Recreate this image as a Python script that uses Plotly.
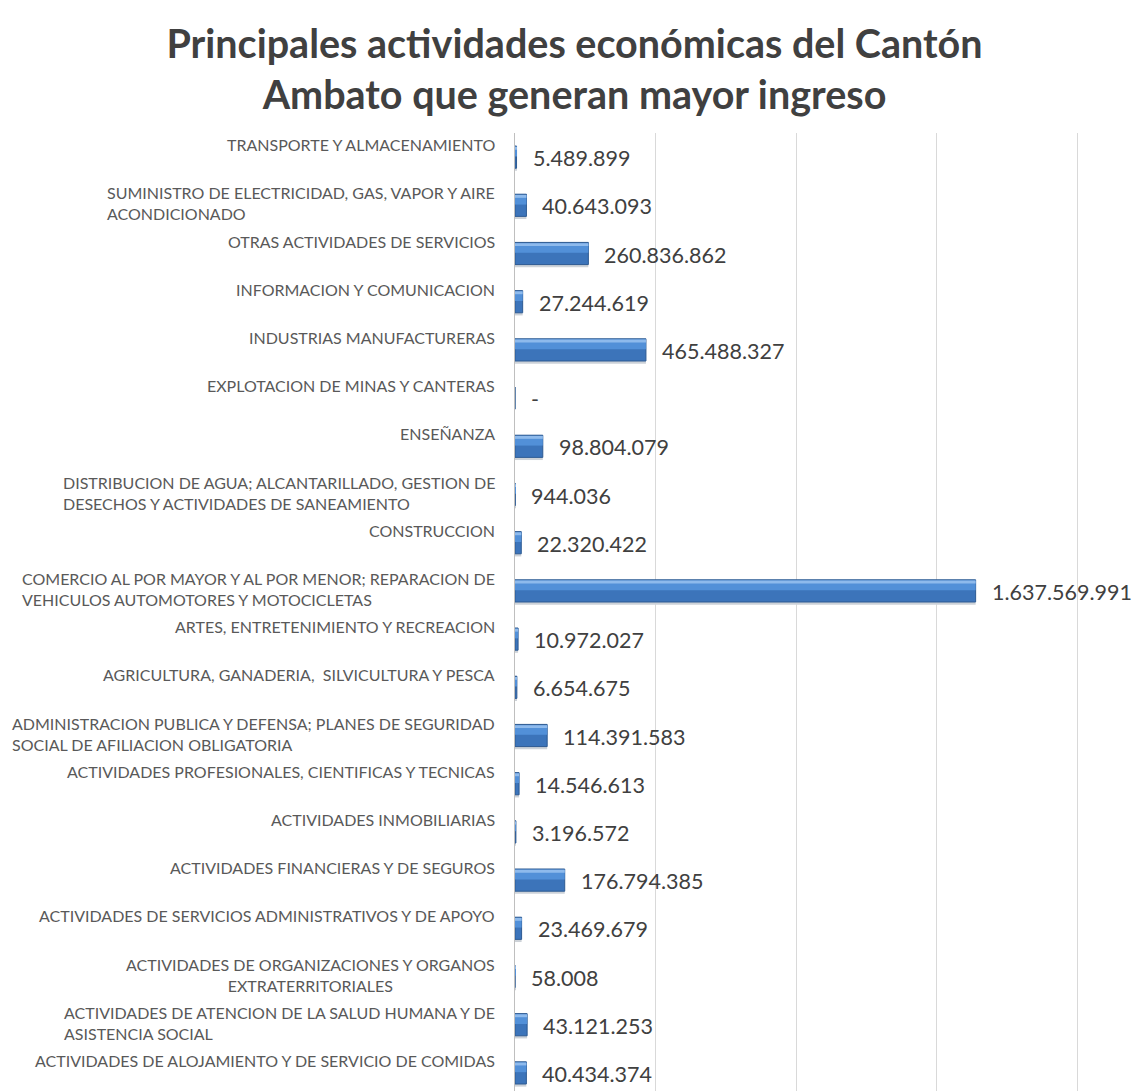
import plotly.graph_objects as go

# ===== Datos (orden de arriba hacia abajo, como en el gráfico) =====
actividades = [
    "TRANSPORTE Y ALMACENAMIENTO",
    "SUMINISTRO DE ELECTRICIDAD, GAS, VAPOR Y AIRE<br>ACONDICIONADO",
    "OTRAS ACTIVIDADES DE SERVICIOS",
    "INFORMACION Y COMUNICACION",
    "INDUSTRIAS MANUFACTURERAS",
    "EXPLOTACION DE MINAS Y CANTERAS",
    "ENSEÑANZA",
    "DISTRIBUCION DE AGUA; ALCANTARILLADO, GESTION DE<br>DESECHOS Y ACTIVIDADES DE SANEAMIENTO",
    "CONSTRUCCION",
    "COMERCIO AL POR MAYOR Y AL POR MENOR; REPARACION DE<br>VEHICULOS AUTOMOTORES Y MOTOCICLETAS",
    "ARTES, ENTRETENIMIENTO Y RECREACION",
    "AGRICULTURA, GANADERIA,  SILVICULTURA Y PESCA",
    "ADMINISTRACION PUBLICA Y DEFENSA; PLANES DE SEGURIDAD<br>SOCIAL DE AFILIACION OBLIGATORIA",
    "ACTIVIDADES PROFESIONALES, CIENTIFICAS Y TECNICAS",
    "ACTIVIDADES INMOBILIARIAS",
    "ACTIVIDADES FINANCIERAS Y DE SEGUROS",
    "ACTIVIDADES DE SERVICIOS ADMINISTRATIVOS Y DE APOYO",
    "ACTIVIDADES DE ORGANIZACIONES Y ORGANOS<br>EXTRATERRITORIALES",
    "ACTIVIDADES DE ATENCION DE LA SALUD HUMANA Y DE<br>ASISTENCIA SOCIAL",
    "ACTIVIDADES DE ALOJAMIENTO Y DE SERVICIO DE COMIDAS",
]
ingresos = [
    5489899, 40643093, 260836862, 27244619, 465488327,
    0, 98804079, 944036, 22320422, 1637569991,
    10972027, 6654675, 114391583, 14546613, 3196572,
    176794385, 23469679, 58008, 43121253, 40434374,
]
titulo = "Principales actividades económicas del Cantón<br>Ambato que generan mayor ingreso"

# ===== Estilo =====
FONT = "Lato"
TITLE_COLOR = "#404040"
LABEL_COLOR = "#595959"
VALUE_COLOR = "#404040"
GRID_COLOR = "#D9D9D9"
BAR_BASE = "#3C74BA"
BAR_MID = "#5290D8"
BAR_TOP = "#8EBAEC"
BAR_EDGE = "#2D5A92"
SHADOW = "#CDD2D8"

# la página añade 8px de margen al body -> la figura se dibuja 8px más abajo/derecha
OFF = 8
W, H = 1141 - OFF, 1091 - OFF
PLOT_TOP, PLOT_LEFT, PLOT_RIGHT = 133 - OFF, 515 - OFF, 1079 - OFF
ROW = 48.2


def fmt(v):
    return "-" if v == 0 else f"{v:,}".replace(",", ".")


fig = go.Figure()
# sombra suave bajo la barra
fig.add_trace(go.Bar(
    x=ingresos, y=actividades, orientation="h", width=0.06, offset=0.225,
    marker=dict(color=SHADOW, line=dict(width=0)),
    hoverinfo="skip",
))
# barra principal + capas de brillo (simulan el bisel 3D)
fig.add_trace(go.Bar(
    x=ingresos, y=actividades, orientation="h", width=0.46,
    marker=dict(color=BAR_BASE, line=dict(color=BAR_EDGE, width=1)),
    hoverinfo="x+y",
))
fig.add_trace(go.Bar(
    x=ingresos, y=actividades, orientation="h", width=0.2, offset=-0.215,
    marker=dict(color=BAR_MID, line=dict(width=0)),
    hoverinfo="skip",
))
fig.add_trace(go.Bar(
    x=ingresos, y=actividades, orientation="h", width=0.06, offset=-0.215,
    marker=dict(color=BAR_TOP, line=dict(width=0)),
    hoverinfo="skip",
))

# etiquetas de valor
for cat, v in zip(actividades, ingresos):
    fig.add_annotation(
        x=v, y=cat, xref="x", yref="y", text=fmt(v), showarrow=False,
        xanchor="left", xshift=14, yshift=-1,
        font=dict(family=FONT, size=21.5, color=VALUE_COLOR),
    )

# etiquetas de categoría (a la izquierda, alineadas arriba)
for cat in actividades:
    alin = "center" if "EXTRATERRITORIALES" in cat else "left"
    fig.add_annotation(
        x=0, y=cat, xref="paper", yref="y", text=cat, showarrow=False,
        xanchor="right", yanchor="top", xshift=-18, yshift=24, align=alin,
        font=dict(family=FONT, size=16, color=LABEL_COLOR),
    )

fig.update_layout(
    width=W, height=H,
    margin=dict(l=PLOT_LEFT, r=W - PLOT_RIGHT, t=PLOT_TOP, b=0, pad=0),
    paper_bgcolor="white", plot_bgcolor="white",
    barmode="overlay", showlegend=False,
    title=dict(
        text=titulo, x=0.5, xref="container", xanchor="center",
        y=1 - 50 / H, yref="container", yanchor="top",
        font=dict(family=FONT, size=39.5, color=TITLE_COLOR, weight="bold"),
    ),
)
fig.update_xaxes(
    range=[0, 2.005e9], dtick=0.5e9, tick0=0, showgrid=True, gridcolor=GRID_COLOR,
    gridwidth=1, zeroline=False, showline=False, showticklabels=False, ticks="",
)
fig.update_yaxes(
    type="category", categoryorder="array", categoryarray=actividades,
    range=[-0.5 + (H - PLOT_TOP) / ROW, -0.5],
    showticklabels=False, ticks="", showgrid=False, zeroline=False,
    showline=True, linecolor="#BFBFBF", linewidth=1,
)

fig.write_html("out.html")
